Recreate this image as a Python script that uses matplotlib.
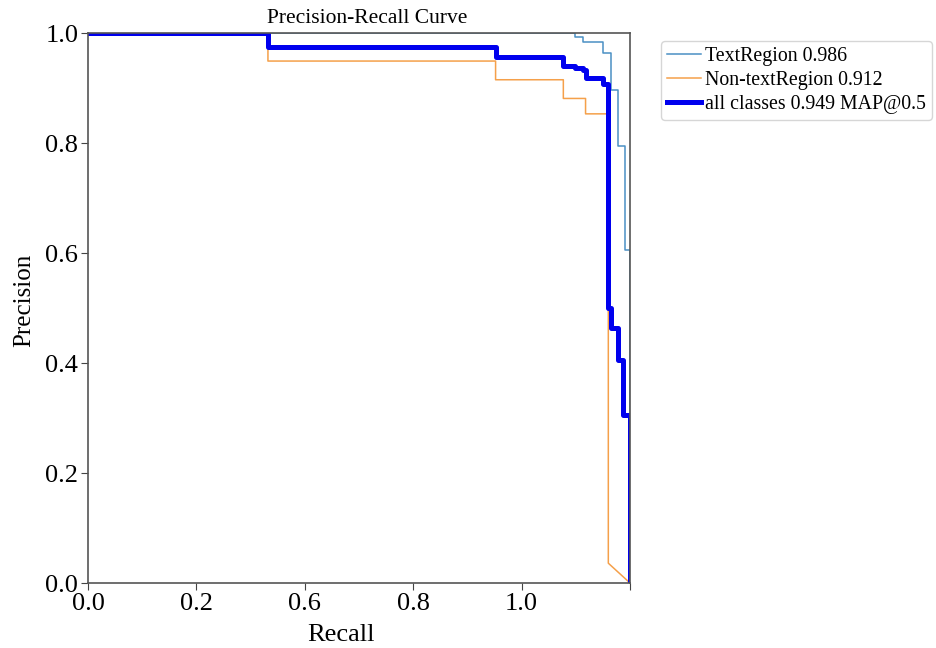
import matplotlib
matplotlib.use("Agg")
import matplotlib.pyplot as plt

plt.rcParams['font.family'] = ['Liberation Serif', 'DejaVu Serif']

# TextRegion curve vertices (recall, precision)
text_recall = [0.0, 0.899, 0.899, 0.913, 0.913, 0.951, 0.951, 0.965, 0.965,
               0.977, 0.977, 0.991, 0.991, 1.0, 1.0]
text_precision = [1.0, 1.0, 0.993, 0.993, 0.984, 0.984, 0.963, 0.963, 0.896,
                  0.896, 0.795, 0.795, 0.605, 0.605, 0.0]

# Non-textRegion curve vertices
nontext_recall = [0.0, 0.332, 0.332, 0.752, 0.752, 0.877, 0.877, 0.918, 0.918,
                  0.960, 0.960, 1.0]
nontext_precision = [1.0, 1.0, 0.949, 0.949, 0.915, 0.915, 0.881, 0.881, 0.853,
                     0.853, 0.036, 0.0]

# all classes (mean) curve vertices
all_recall = [0.0, 0.332, 0.332, 0.752, 0.752, 0.877, 0.877, 0.899, 0.899,
              0.913, 0.913, 0.918, 0.918, 0.951, 0.951, 0.960, 0.960, 0.965,
              0.965, 0.977, 0.977, 0.988, 0.988, 1.0, 1.0]
all_precision = [1.0, 1.0, 0.975, 0.975, 0.957, 0.957, 0.940, 0.940, 0.937,
                 0.937, 0.933, 0.933, 0.918, 0.918, 0.908, 0.908, 0.500, 0.500,
                 0.464, 0.464, 0.405, 0.405, 0.305, 0.305, 0.0]

labels = ['TextRegion 0.986', 'Non-textRegion 0.912', 'all classes 0.949 MAP@0.5']
x_ticks = [0.0, 0.2, 0.4, 0.6, 0.8, 1.0]
x_tick_labels = ['0.0', '0.2', '0.6', '0.8', '1.0', '']
y_ticks = [0.0, 0.2, 0.4, 0.6, 0.8, 1.0]
y_tick_labels = ['0.0', '0.2', '0.4', '0.6', '0.8', '1.0']

fig = plt.figure(figsize=(9.36, 6.48), dpi=100)
ax = fig.add_axes([88/936, 1-583/648, 542/936, 550/648])

ax.plot(text_recall, text_precision, color='#4a90c4', lw=1.1, label=labels[0])
ax.plot(nontext_recall, nontext_precision, color='#f5a04a', lw=1.1, label=labels[1])
ax.plot(all_recall, all_precision, color='#0000ee', lw=3.6, label=labels[2])

ax.set_xlim(0, 1)
ax.set_ylim(0, 1)
ax.set_xticks(x_ticks)
ax.set_xticklabels(x_tick_labels)
ax.set_yticks(y_ticks)
ax.set_yticklabels(y_tick_labels)
ax.tick_params(labelsize=19, length=5, color='#444444', pad=2)
for s in ax.spines.values():
    s.set_color('#555555')
    s.set_linewidth(1.2)

ax.set_xlabel('Recall', fontsize=19)
ax.xaxis.set_label_coords(0.466, -0.074)
ax.set_ylabel('Precision', fontsize=18)
ax.yaxis.set_label_coords(-0.097, 0.513)
ax.set_title('Precision-Recall Curve', fontsize=15.5, pad=7, x=0.515)

leg = ax.legend(loc='upper left', bbox_to_anchor=(1.058, 0.986), borderaxespad=0,
                fontsize=14.3, handlelength=1.7, handletextpad=0.2, borderpad=0.3,
                labelspacing=0.25, frameon=True, fancybox=True)
leg.get_frame().set_edgecolor('#cccccc')

fig.savefig('out.png', dpi=100)
